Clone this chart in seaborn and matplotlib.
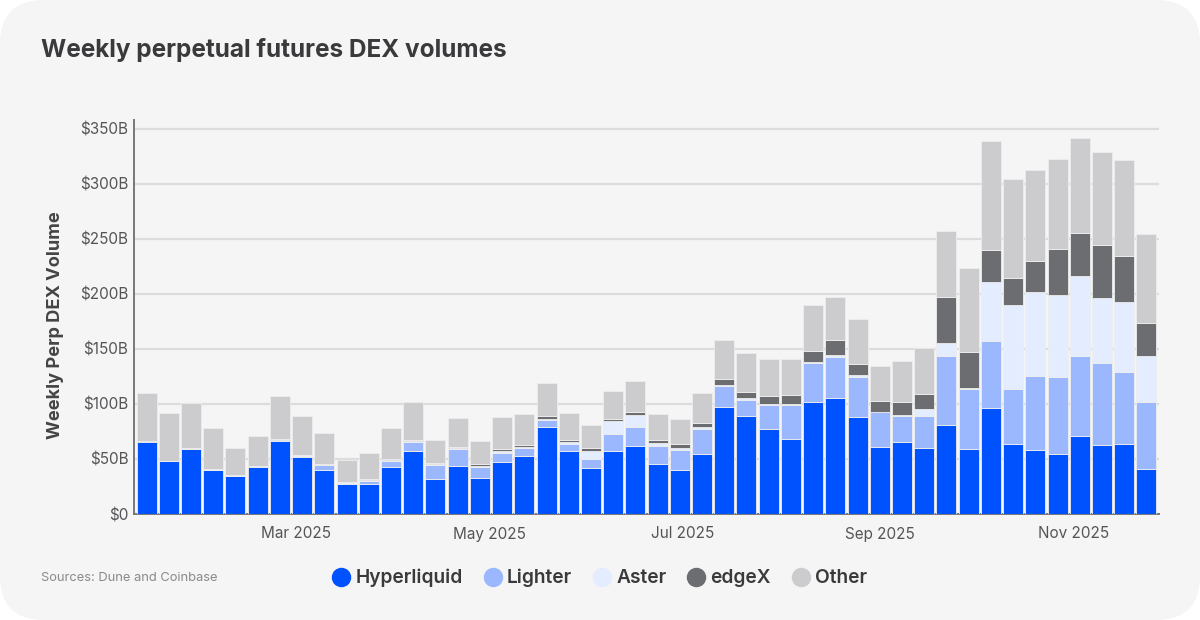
import pandas as pd
import numpy as np
import matplotlib
matplotlib.use("Agg")
import matplotlib.pyplot as plt
import matplotlib.dates as mdates
from matplotlib.lines import Line2D
from matplotlib.patches import FancyBboxPatch
import seaborn as sns

# weekly volume in $B, one value per series per week
hyperliquid = [65, 48, 59, 40, 34.5, 43, 66.5, 52, 40, 27, 27, 43, 57, 31.5, 44, 33, 47.5, 52.7,
               78.8, 57, 42, 57, 61.8, 45.8, 39.7, 54.8, 97, 88.8, 77.3, 68.5, 102, 105, 88, 60.6,
               65.5, 60.3, 80.6, 58.8, 96, 64, 58.2, 54.2, 70.6, 62.7, 63.6, 40.6]
lighter = [0.5, 0.4, 0.5, 0.3, 0.3, 0.5, 0.5, 1, 4.5, 1.5, 3, 5, 8, 13, 15, 10, 7.5, 7.3,
           6.2, 6.6, 8.3, 16, 17, 16, 18.8, 22.5, 19, 15.2, 22.1, 30.3, 35, 37.7, 36.8, 31.8,
           23.5, 29.1, 62.7, 55.2, 61, 49.3, 67.3, 70.6, 73.4, 74.6, 65.4, 61.2]
aster = [0.2, 0, 0.3, 0.2, 0.2, 0.3, 0.5, 0.5, 0.5, 0.5, 1, 1, 1, 1, 1, 1, 2, 1,
         1.7, 1.9, 7, 11.5, 11.2, 3, 1.8, 1.7, 1.3, 1, 0.9, 0.9, 1.5, 1.8, 1.2, 0.6,
         0.6, 6.1, 12.5, 0.2, 54, 76.7, 76.3, 74.2, 71.8, 59.1, 64, 41.8]
edgex = [0.3, 0.1, 0.2, 0.2, 0.3, 0.2, 0.8, 0.5, 0.5, 0.5, 1, 1, 1.5, 0.5, 1, 1, 2, 2,
         2.1, 2.1, 2.4, 2.2, 2.4, 2.5, 3, 4, 5.1, 6.2, 6.7, 8.8, 9.5, 13.5, 10.7, 9.7,
         12.5, 13.5, 41.2, 33.4, 29.3, 24.5, 28.2, 41.6, 39.7, 47.6, 41, 29.7]
other = [43.5, 43.5, 41, 37.3, 24.7, 27, 39.2, 35.5, 28.5, 19.5, 23, 28, 34.5, 21, 26, 21, 29, 28,
         29.8, 24, 21.3, 25.3, 28.9, 23.7, 22.7, 27, 35.3, 35.3, 34, 31.9, 41.8, 39, 40.1, 31.6,
         36.8, 42, 59.8, 76.1, 98.2, 90, 83, 82.4, 86.5, 84.6, 88, 81]

weeks = pd.date_range("2025-01-13", periods=46, freq="7D")
series_names = ["Hyperliquid", "Lighter", "Aster", "edgeX", "Other"]
series_values = [hyperliquid, lighter, aster, edgex, other]
series_colors = ["#0052FF", "#9BB8FF", "#E4ECFF", "#6B6D70", "#CCCCCE"]

rows = []
for name, vals in zip(series_names, series_values):
    rows.append(pd.DataFrame({"day": mdates.date2num(weeks), "series": name, "volume": vals}))
df = pd.concat(rows, ignore_index=True)

BG = "#F5F5F5"
sns.set_theme(style="white", rc={"axes.facecolor": BG})
plt.rcParams["font.family"] = ["Inter", "DejaVu Sans"]

fig = plt.figure(figsize=(12, 6.2), dpi=100, facecolor="white")
# rounded card behind everything
fig.patches.append(FancyBboxPatch((0, 0), 1200, 620, boxstyle="round,pad=0,rounding_size=44",
                                  transform=None, facecolor=BG, edgecolor="none", zorder=-1))
ax = fig.add_axes([134 / 1200, 1 - 514 / 620, (1159 - 134) / 1200, (514 - 120) / 620])
ax.set_facecolor(BG)

first = mdates.date2num(weeks[0])
last = mdates.date2num(weeks[-1])
# histplot stacks first hue on top, so hand it the order reversed
sns.histplot(data=df, x="day", weights="volume", hue="series", hue_order=series_names[::-1],
             palette=dict(zip(series_names, series_colors)), multiple="stack",
             binwidth=7, binrange=(first - 3.5, last + 3.5), shrink=0.9, alpha=1,
             edgecolor="#EDEDED", linewidth=0.6, legend=False, ax=ax, zorder=3)

ax.set_xlim(first - 3.95, last + 3.95)
ax.set_ylim(0, 358)
ax.xaxis.set_major_locator(mdates.MonthLocator(bymonth=[3, 5, 7, 9, 11]))
ax.xaxis.set_major_formatter(mdates.DateFormatter("%b %Y"))
ax.set_yticks(np.arange(0, 351, 50))
ax.set_yticklabels(["$0", "$50B", "$100B", "$150B", "$200B", "$250B", "$300B", "$350B"])
ax.grid(axis="y", color="#DCDCDC", linewidth=1.6, zorder=0)
ax.set_axisbelow(True)
ax.tick_params(axis="x", labelsize=11, labelcolor="#555558", length=3, width=1, color="#777777", pad=6)
ax.tick_params(axis="y", labelsize=11, labelcolor="#555558", length=0, pad=4)
ax.set_xlabel("")
ax.set_ylabel("Weekly Perp DEX Volume", fontsize=13.1, fontweight="bold", color="#444446")
# label sits a little below the axis middle in the original
ax.yaxis.set_label_coords((64 - 134) / (1159 - 134), (514 - 325) / (514 - 120))
sns.despine(ax=ax)
for side in ["left", "bottom"]:
    ax.spines[side].set_color("#777777")
    ax.spines[side].set_linewidth(1.4)

fig.text(41 / 1200, 1 - 50 / 620, "Weekly perpetual futures DEX volumes", fontsize=17.5,
         fontweight="bold", color="#3A3A3C", va="center", ha="left")
fig.text(41 / 1200, 1 - 578 / 620, "Sources: Dune and Coinbase", fontsize=9.3,
         color="#8A8A8C", va="center", ha="left")

handles = [Line2D([], [], linestyle="", marker="o", markersize=13, color=c) for c in series_colors]
leg = fig.legend(handles, series_names, loc="center", bbox_to_anchor=(599 / 1200, 1 - 578 / 620),
                 ncols=5, frameon=False, fontsize=13.8, handlelength=1.1, handletextpad=0.2,
                 columnspacing=1.0)
for t in leg.get_texts():
    t.set_color("#3A3A3C")
    t.set_fontweight("semibold")

fig.savefig("out.png", dpi=100, facecolor="white")
